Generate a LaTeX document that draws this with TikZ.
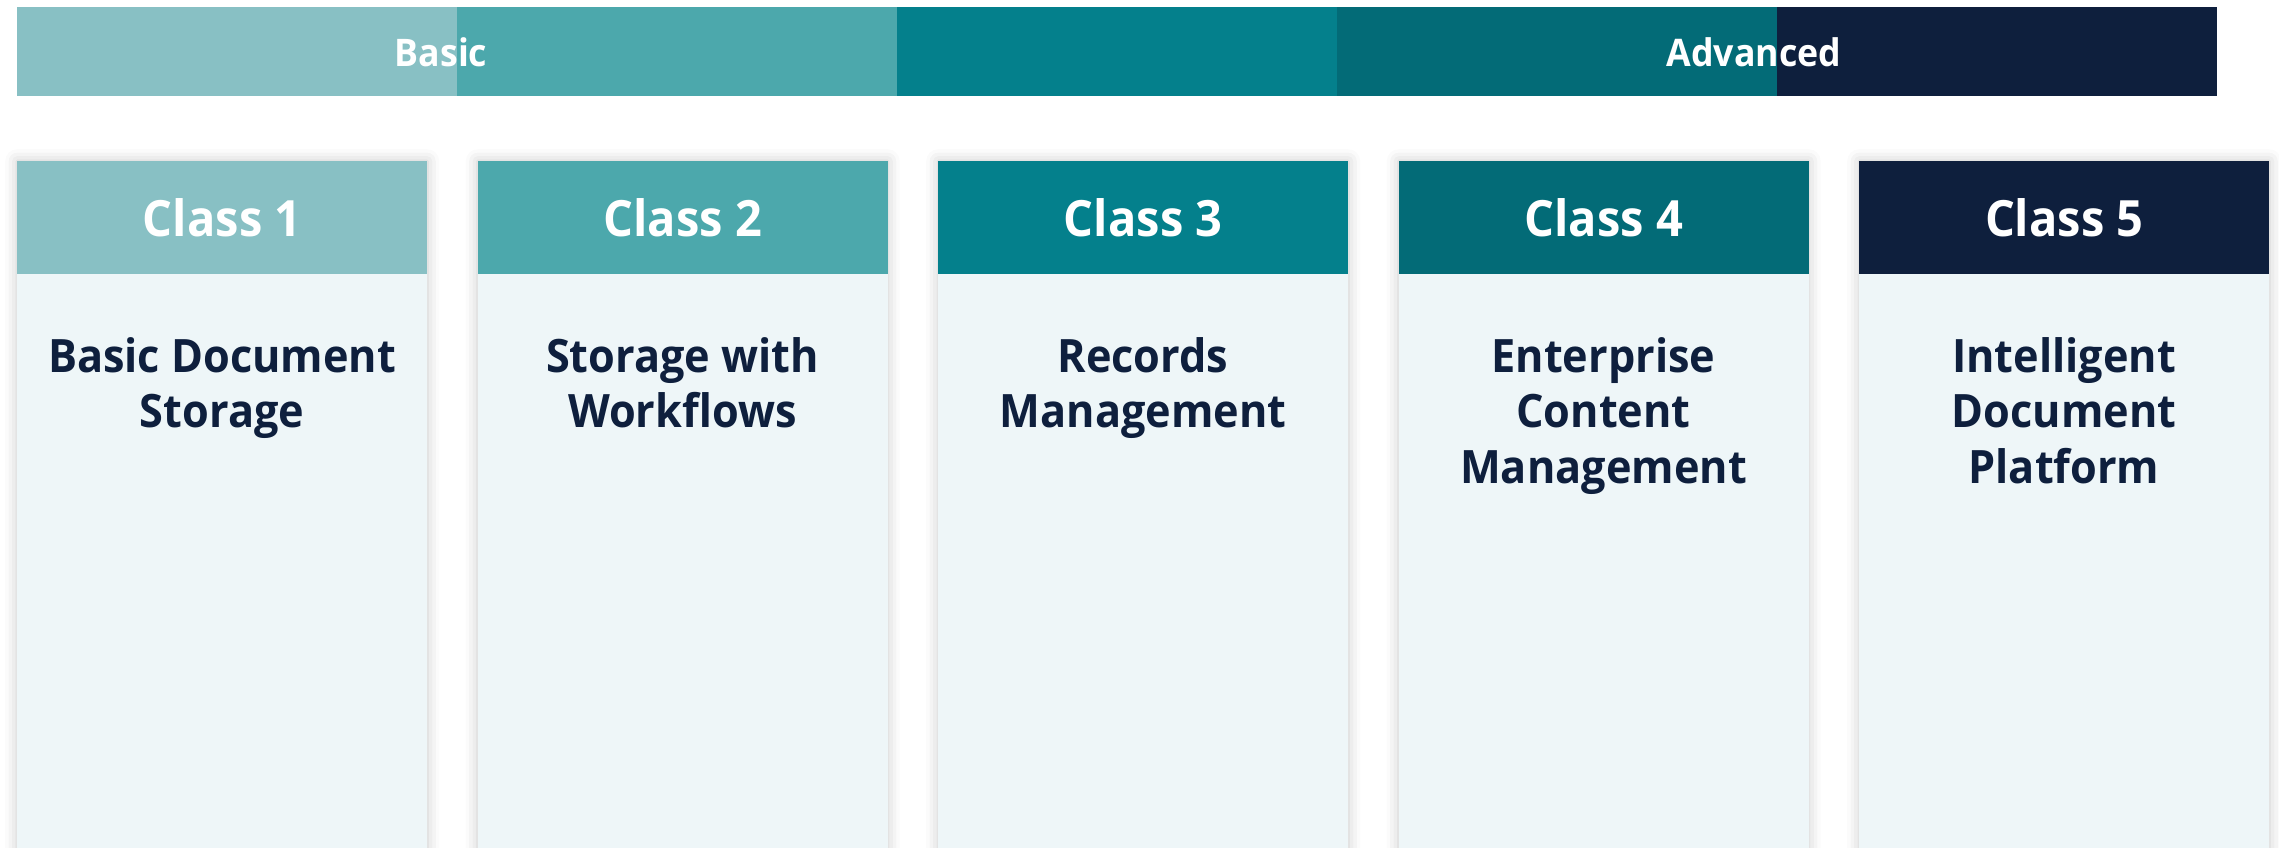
\documentclass[tikz,border=0pt]{standalone}
\usepackage{fontspec}
\setmainfont[FakeStretch=0.94]{Open Sans}
\usetikzlibrary{shadows.blur}
\definecolor{cOne}{HTML}{88C0C4}
\definecolor{cTwo}{HTML}{4CA8AC}
\definecolor{cThree}{HTML}{04808C}
\definecolor{cFour}{HTML}{036B77}
\definecolor{cFive}{HTML}{0E1F3D}
\definecolor{bodyfill}{HTML}{EEF6F8}
\definecolor{navy}{HTML}{0E1F3D}
\newcommand{\firstline}{\rule{0pt}{40pt}}
\tikzset{
  segbox/.style={draw=none, inner sep=0pt, anchor=north west, minimum width=440pt, minimum height=89pt},
  bartext/.style={text=white, inner sep=0pt, anchor=base, font=\fontsize{38}{46}\selectfont\bfseries},
  cardbg/.style={draw=none, fill=bodyfill, inner sep=0pt, anchor=north west, minimum width=410pt, minimum height=760pt,
    blur shadow={shadow xshift=0pt, shadow yshift=0pt, shadow blur radius=12pt, shadow opacity=22}},
  hdrbox/.style={draw=none, inner sep=0pt, anchor=north west, minimum width=410pt, minimum height=113pt,
    text=white, font=\fontsize{50}{60}\selectfont\bfseries},
  bodytext/.style={text=navy, inner sep=0pt, anchor=north, align=center, font=\fontsize{46}{55.6}\selectfont\bfseries}
}
\begin{document}
\begin{tikzpicture}[x=1pt,y=-1pt]
\useasboundingbox (0,0) rectangle (2279,848);
% top bar
\node[segbox, fill=cOne]   (s1) at (17,7) {};
\node[segbox, fill=cTwo]   (s2) at (457,7) {};
\node[segbox, fill=cThree] (s3) at (897,7) {};
\node[segbox, fill=cFour]  (s4) at (1337,7) {};
\node[segbox, fill=cFive]  (s5) at (1777,7) {};
\node[bartext] (basic) at (441,67) {Basic};
\node[bartext] (adv) at (1754,67) {Advanced};
% cards
\node[cardbg] (c1) at (17,161) {};
\node[cardbg] (c2) at (477.5,161) {};
\node[cardbg] (c3) at (938,161) {};
\node[cardbg] (c4) at (1398.5,161) {};
\node[cardbg] (c5) at (1859,161) {};
\node[hdrbox, fill=cOne]   (h1) at (17,161) {Class 1};
\node[hdrbox, fill=cTwo]   (h2) at (477.5,161) {Class 2};
\node[hdrbox, fill=cThree] (h3) at (938,161) {Class 3};
\node[hdrbox, fill=cFour]  (h4) at (1398.5,161) {Class 4};
\node[hdrbox, fill=cFive]  (h5) at (1859,161) {Class 5};
\node[bodytext] (t1) at (222,332) {\firstline Basic Document\\Storage};
\node[bodytext] (t2) at (682.5,332) {\firstline Storage with\\Workflows};
\node[bodytext] (t3) at (1143,332) {\firstline Records\\Management};
\node[bodytext] (t4) at (1603.5,332) {\firstline Enterprise\\Content\\Management};
\node[bodytext] (t5) at (2064,332) {\firstline Intelligent\\Document\\Platform};
\end{tikzpicture}
\end{document}
